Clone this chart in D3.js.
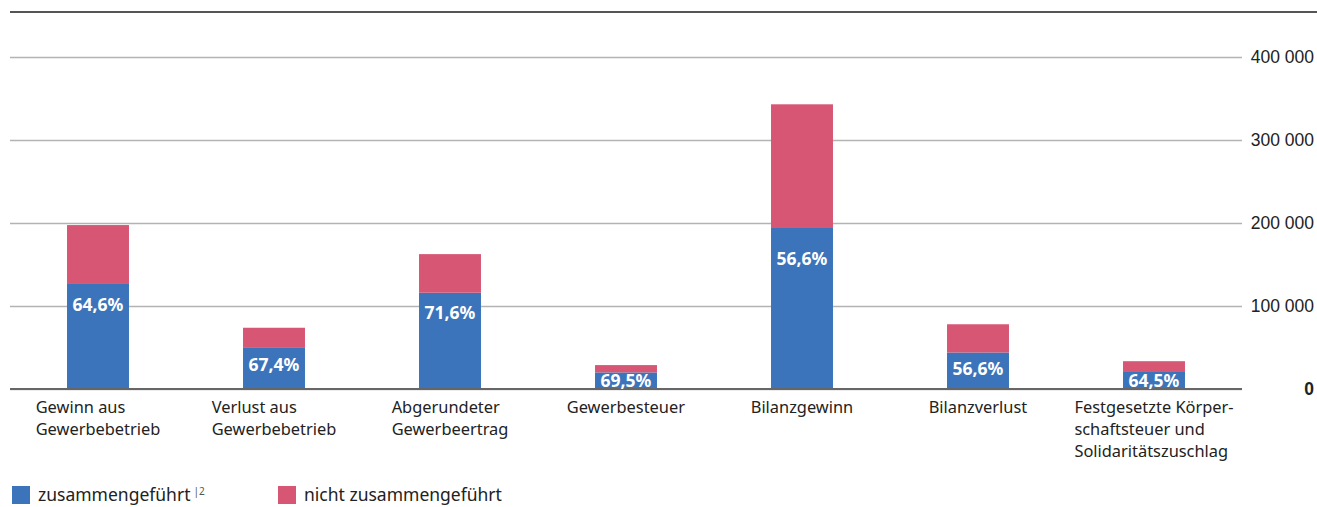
<!DOCTYPE html>
<html>
<head>
    <meta charset="utf-8">
    <title>Zusammengeführt vs. nicht zusammengeführt</title>
    <script src="https://cdn.jsdelivr.net/npm/d3@7"></script>
    <style>
        body { margin: 0; background: #fff; }
        svg { font-family: "Noto Sans", sans-serif; }
        .grid line { stroke: #b3b3b3; stroke-width: 1.5px; }
        .grid path { display: none; }
        .grid text { font-size: 17.5px; fill: #222; }
        .xlab { font-size: 16.4px; fill: #222; }
        .pct { font-size: 17.5px; font-weight: 700; fill: #fff; }
        .legend text { font-size: 17.5px; fill: #222; }
    </style>
</head>
<body>
<script>
    // categories (label lines)
    let categories = [
        ["Gewinn aus", "Gewerbebetrieb"],
        ["Verlust aus", "Gewerbebetrieb"],
        ["Abgerundeter", "Gewerbeertrag"],
        ["Gewerbesteuer"],
        ["Bilanzgewinn"],
        ["Bilanzverlust"],
        ["Festgesetzte Körper-", "schaftsteuer und", "Solidaritätszuschlag"]
    ];
    // values
    let merged = [127500, 49500, 116000, 20000, 194000, 44000, 21500];
    let notMerged = [70000, 24300, 46500, 8800, 149000, 34000, 12000];
    let shares = ["64,6%", "67,4%", "71,6%", "69,5%", "56,6%", "56,6%", "64,5%"];
    let yTicks = [0, 100000, 200000, 300000, 400000];
    let seriesNames = ["zusammengeführt", "nicht zusammengeführt"];
    let colors = ["#3b74ba", "#d75674"];

    let width = 1317, height = 507;
    let plotLeft = 10, plotRight = 1242, plotBase = 389, plotTop = 57;

    let svg = d3.select("body").append("svg")
        .attr("width", width)
        .attr("height", height);

    let rows = categories.map((c, i) => ({ i: i, a: merged[i], b: notMerged[i] }));

    let x = d3.scaleBand()
        .domain(d3.range(categories.length))
        .range([plotLeft, plotRight])
        .paddingInner(0.648)
        .paddingOuter(0.324);

    let y = d3.scaleLinear()
        .domain([0, 400000])
        .range([plotBase, plotTop]);

    let fmt = d3.formatLocale({ decimal: ",", thousands: " ", grouping: [3] }).format(",");

    // top rule
    svg.append("line")
        .attr("x1", plotLeft).attr("x2", width)
        .attr("y1", 12).attr("y2", 12)
        .attr("stroke", "#555").attr("stroke-width", 2);

    // gridlines + labels on the right
    let grid = svg.append("g")
        .attr("class", "grid")
        .attr("transform", "translate(" + plotLeft + ",0)")
        .call(d3.axisRight(y).tickValues(yTicks).tickSize(plotRight - plotLeft).tickFormat(fmt));
    grid.selectAll("text")
        .attr("x", 1314 - plotLeft)
        .attr("text-anchor", "end")
        .style("font-weight", d => d === 0 ? 700 : 400);

    let stack = d3.stack().keys(["a", "b"]);
    let layers = stack(rows);

    svg.append("g").selectAll("g")
        .data(layers)
        .join("g")
        .attr("fill", (d, i) => colors[i])
        .selectAll("rect")
        .data(d => d)
        .join("rect")
        .attr("x", d => x(d.data.i))
        .attr("y", d => y(d[1]))
        .attr("width", x.bandwidth())
        .attr("height", d => y(d[0]) - y(d[1]));

    // baseline drawn over the zero gridline
    svg.append("line")
        .attr("x1", plotLeft).attr("x2", plotRight)
        .attr("y1", y(0)).attr("y2", y(0))
        .attr("stroke", "#666").attr("stroke-width", 2.2);

    // percentage labels in the blue part
    svg.append("g").selectAll("text")
        .data(rows)
        .join("text")
        .attr("class", "pct")
        .attr("text-anchor", "middle")
        .attr("dominant-baseline", "central")
        .attr("x", d => x(d.i) + x.bandwidth() / 2)
        .attr("y", d => {
            let t = y(d.a), h = y(0) - t;
            let c = Math.max(t + 0.17 * h + 3, t + 16);
            return Math.min(c, y(0) - 9);
        })
        .text((d, i) => shares[i]);

    // category labels: block centred under bar, lines left aligned
    let xl = svg.append("g").selectAll("text")
        .data(categories)
        .join("text")
        .attr("class", "xlab")
        .attr("y", 413);
    xl.selectAll("tspan")
        .data(d => d)
        .join("tspan")
        .attr("x", 0)
        .attr("dy", (d, i) => i === 0 ? 0 : 22)
        .text(d => d);
    xl.each(function (d, i) {
        let w = this.getBBox().width;
        let x0 = x(i) + x.bandwidth() / 2 - w / 2;
        d3.select(this).selectAll("tspan").attr("x", x0);
    });

    // legend
    let legX = [12, 278];
    let leg = svg.append("g").attr("class", "legend")
        .selectAll("g")
        .data(seriesNames)
        .join("g")
        .attr("transform", (d, i) => "translate(" + legX[i] + ",486)");
    leg.append("rect")
        .attr("width", 18).attr("height", 18)
        .attr("fill", (d, i) => colors[i]);
    let lt = leg.append("text")
        .attr("x", 26).attr("y", 15)
        .text(d => d);
    lt.filter((d, i) => i === 0)
        .append("tspan")
        .attr("dx", 3)
        .attr("dy", -6)
        .style("font-size", "10px")
        .style("fill", "#555")
        .text("|2");
</script>
</body>
</html>
